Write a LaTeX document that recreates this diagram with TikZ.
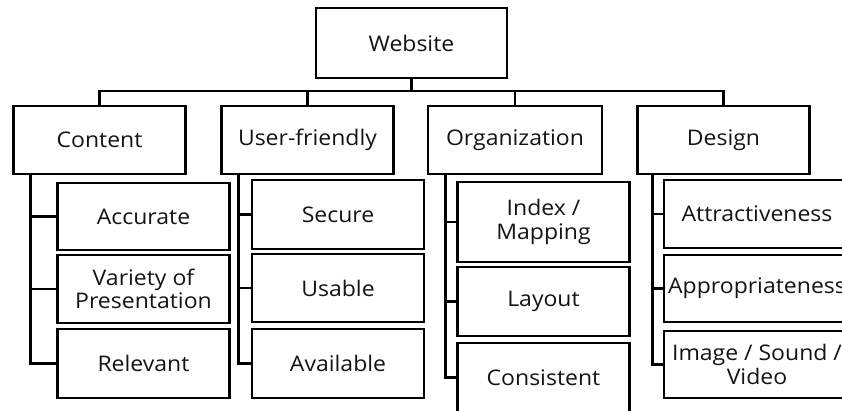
\documentclass[tikz,border=0pt]{standalone}
\usepackage{fontspec}
\setmainfont[FakeStretch=1.07]{Open Sans}

\begin{document}
\begin{tikzpicture}[x=1pt,y=-1pt,
    box/.style={draw,line width=2.8pt,inner sep=0pt,minimum width=172pt,minimum height=68pt,align=center,
      font=\fontsize{21.5}{23.5}\selectfont,text=black!92},
    link/.style={line width=2.8pt}]
  \useasboundingbox (0,0) rectangle (842,410);
  \clip (0,0) rectangle (842,410);
  \draw
    (411.5,43) node[box,minimum width=191pt,minimum height=70pt] (web){Website}
    (99.5,140) node[box] (content){Content}
    (307.5,140) node[box] (user){User-friendly}
    (515,140) node[box,minimum width=174pt] (org){Organization}
    (723.5,140) node[box] (design){Design}
    (143.5,216.5) node[box,minimum height=67pt] (accur){Accurate}
    (143.5,289) node[box] (variety){Variety of\\Presentation}
    (143.5,363.5) node[box,minimum height=69pt] (relev){Relevant}
    (338,214.5) node[box,minimum height=69pt] (secure){Secure}
    (338,288) node[box] (usable){Usable}
    (338,363.5) node[box,minimum height=69pt] (avail){Available}
    (543.5,222) node[box,minimum height=80pt] (index){Index /\\Mapping}
    (543.5,301.5) node[box,minimum height=69pt] (layout){Layout}
    (543.5,377.5) node[box,minimum height=69pt] (consist){Consistent}
    (757,214) node[box,minimum width=186pt] (attract){Attractiveness}
    (757,288.5) node[box,minimum width=186pt,minimum height=67pt] (approp){Appropriateness}
    (757,364.5) node[box,minimum width=186pt,minimum height=67pt] (media){Image / Sound /\\Video};
  \coordinate (bus) at (411.5,91);
  \begin{scope}[link]
    \draw (web.south) -- (bus);
    \draw (bus) -| (content.north);
    \draw (bus) -| (user.north);
    \draw (bus) -| (org.north);
    \draw (bus) -| (design.north);
    \draw ([xshift=18pt]content.south west) |- (accur.west);
    \draw ([xshift=18pt]content.south west) |- (variety.west);
    \draw ([xshift=18pt]content.south west) |- (relev.west);
    \draw ([xshift=18pt]user.south west) |- (secure.west);
    \draw ([xshift=18pt]user.south west) |- (usable.west);
    \draw ([xshift=18pt]user.south west) |- (avail.west);
    \draw ([xshift=19pt]org.south west) |- (index.west);
    \draw ([xshift=19pt]org.south west) |- (layout.west);
    \draw ([xshift=19pt]org.south west) |- (consist.west);
    \draw ([xshift=16pt]design.south west) |- (attract.west);
    \draw ([xshift=16pt]design.south west) |- (approp.west);
    \draw ([xshift=16pt]design.south west) |- (media.west);
  \end{scope}
\end{tikzpicture}
\end{document}
